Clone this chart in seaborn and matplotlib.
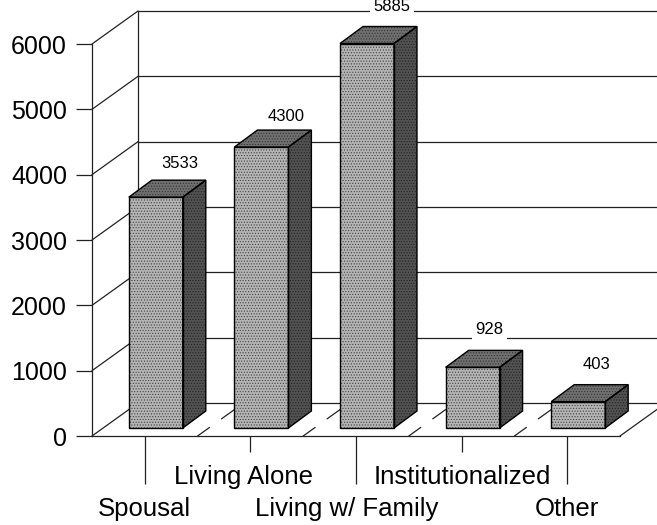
import matplotlib
matplotlib.use("Agg")
import matplotlib.pyplot as plt
import seaborn as sns
from matplotlib.patches import Polygon, Rectangle
from matplotlib.transforms import ScaledTranslation

categories = ["Spousal", "Living Alone", "Living w/ Family", "Institutionalized", "Other"]
values = [3533, 4300, 5885, 928, 403]
yticks = [0, 1000, 2000, 3000, 4000, 5000, 6000]

# fake 3d geometry, in data units (one category = 105.6 px, 1000 = 65.3 px)
WALL_X, WALL_Y = 46 / 105.6, 33 / 0.06533
BAR_X, BAR_Y = 23 / 105.6, 17 / 0.06533
FLOOR_X, FLOOR_Y = 11 / 105.6, 8 / 0.06533
BAR_W = 0.511

sns.set_theme(style="white")
plt.rcParams["font.family"] = ["Liberation Sans", "DejaVu Sans"]
plt.rcParams["hatch.linewidth"] = 0.5

fig = plt.figure(figsize=(6.57, 5.25), dpi=100)
ax = fig.add_axes([92 / 657, (525 - 436) / 525, 528 / 657, 392 / 525])
ax.patch.set_visible(False)

sns.barplot(x=categories, y=values, width=BAR_W, color="#b4b4b4", saturation=1, ax=ax, zorder=3)
ax.set_xlim(-0.5, 4.5)
ax.set_ylim(0, 6000)

# walls and floor
LC = "#222222"
lw = 0.9
for v in yticks:
    ax.plot([-0.5, -0.5 + WALL_X], [v, v + WALL_Y], color=LC, lw=lw, clip_on=False, zorder=1)
    ax.plot([-0.5 + WALL_X, 4.5 + WALL_X], [v + WALL_Y] * 2, color=LC, lw=lw, clip_on=False, zorder=1)
ax.plot([-0.5 + WALL_X] * 2, [WALL_Y, 6000 + WALL_Y], color=LC, lw=lw, clip_on=False, zorder=1)
ax.plot([4.5, 4.5 + WALL_X], [0, WALL_Y], color=LC, lw=lw, clip_on=False, zorder=1)

# broken floor dividers between the categories
for k in range(4):
    x = k + 0.5
    for a, b in [(0, 0.26), (0.52, 0.80)]:
        ax.plot([x + a * WALL_X, x + b * WALL_X], [a * WALL_Y, b * WALL_Y],
                color=LC, lw=lw, clip_on=False, zorder=1)

# boxes
bars = list(ax.patches)
label_dx = [1, 2, 1.5, -6, -4.5]
label_dy = [-17, -14, -20, -21, -20]
for bar, val, ldx, ldy in zip(bars, values, label_dx, label_dy):
    x0 = bar.get_x() + FLOOR_X
    x1 = x0 + BAR_W
    y0 = FLOOR_Y
    y1 = val + FLOOR_Y
    bar.set_x(x0)
    bar.set_y(y0)
    bar.set(edgecolor="#444444", hatch="......", linewidth=0)
    ax.add_patch(Rectangle((x0, y0), BAR_W, val, fill=False, edgecolor="black", lw=1, zorder=4))
    top = [(x0, y1), (x1, y1), (x1 + BAR_X, y1 + BAR_Y), (x0 + BAR_X, y1 + BAR_Y)]
    side = [(x1, y0), (x1 + BAR_X, y0 + BAR_Y), (x1 + BAR_X, y1 + BAR_Y), (x1, y1)]
    ax.add_patch(Polygon(top, facecolor="#707070", edgecolor="#333333", hatch="......", lw=0, zorder=3, clip_on=False))
    ax.add_patch(Polygon(top, fill=False, edgecolor="black", lw=1, zorder=4, clip_on=False))
    ax.add_patch(Polygon(side, facecolor="#525252", edgecolor="#222222", hatch="......", lw=0, zorder=3, clip_on=False))
    ax.add_patch(Polygon(side, fill=False, edgecolor="black", lw=1, zorder=4, clip_on=False))
    ax.annotate(str(val), xy=((x0 + x1) / 2 + BAR_X, y1 + BAR_Y), xytext=(ldx * 0.72, -ldy * 0.72),
                textcoords="offset points", ha="center", va="center", fontsize=12, color="black",
                annotation_clip=False, zorder=2,
                bbox=dict(facecolor="white", edgecolor="none", pad=2.5))

# axes
ax.set_yticks(yticks)
ax.set_xticks(range(len(categories)))
ax.set_xticklabels(categories)
ax.tick_params(axis="y", left=True, length=11.5, width=0.9, color=LC, pad=6.5, labelsize=18, labelcolor="black")
ax.tick_params(axis="x", bottom=True, width=0.9, color=LC, labelsize=18.5, labelcolor="black")
sns.despine(ax=ax, top=True, right=True)
for s in ["left", "bottom"]:
    ax.spines[s].set_color(LC)
    ax.spines[s].set_linewidth(0.9)

# staggered category labels, set_pad resets the tick size so it goes first
tick_len = [34.6, 11.5, 34.6, 11.5, 34.6]
tick_pad = [38, 15, 38, 15, 38]
label_shift = [0, -7, -9, 1, 0]
for tick, ln, pad, shift in zip(ax.xaxis.get_major_ticks(), tick_len, tick_pad, label_shift):
    tick.set_pad(pad)
    tick.tick1line.set_markersize(ln)
    lab = tick.label1
    lab.set_transform(lab.get_transform() + ScaledTranslation(shift / 100, 0, fig.dpi_scale_trans))

ax.set_xlabel("")
fig.savefig("out.png", dpi=100)
